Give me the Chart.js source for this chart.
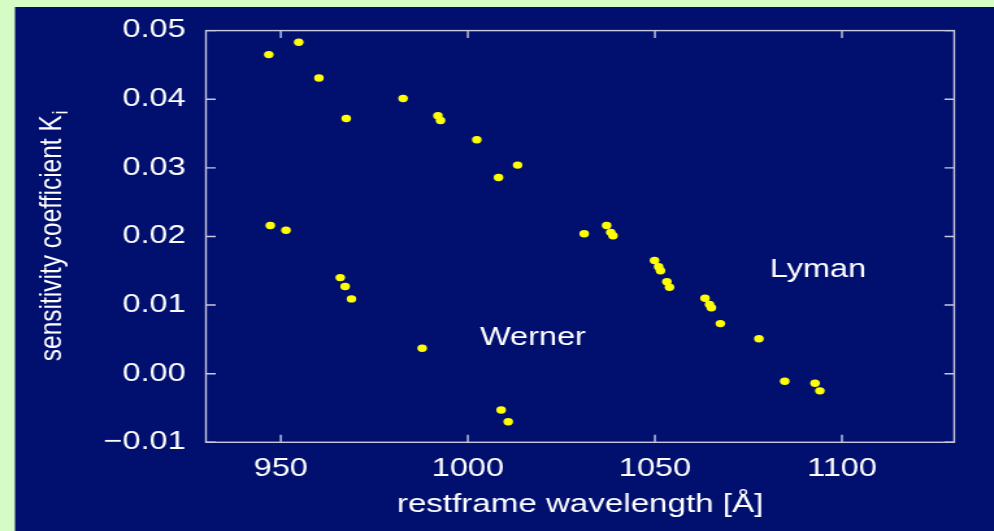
<!DOCTYPE html>
<html>
<head>
<meta charset="utf-8">
<script src="https://cdn.jsdelivr.net/npm/chart.js@4/dist/chart.umd.min.js"></script>
<style>
  html, body { margin: 0; padding: 0; background: #d4fcc4; overflow: hidden; }
  /* the original picture is stretched sideways, so the chart is drawn narrow and scaled */
  #wrap { width: 765px; height: 531px; transform: scaleX(1.2993); transform-origin: 0 0; }
</style>
</head>
<body>
<div id="wrap"><canvas id="chart"></canvas></div>
<script>
// Lyman band lines
const lymanWl = [946.8, 954.8, 960.2, 967.5, 982.7, 992.0, 992.7, 1002.4, 1008.2, 1013.3,
    1031.1, 1037.1, 1038.2, 1038.8, 1049.9, 1051.0, 1051.5, 1053.2, 1053.9,
    1063.4, 1064.6, 1065.1, 1067.5, 1077.8, 1084.7, 1092.8, 1094.1];
const lymanK = [0.0465, 0.0483, 0.0431, 0.0372, 0.0401, 0.0376, 0.0369, 0.0341, 0.0286, 0.0304,
    0.0204, 0.0216, 0.0206, 0.0201, 0.0165, 0.0156, 0.0150, 0.0134, 0.0126,
    0.0110, 0.0101, 0.0096, 0.0073, 0.0051, -0.0011, -0.0014, -0.0025];

// Werner band lines
const wernerWl = [947.2, 951.4, 965.9, 967.2, 968.9, 987.8, 1008.9, 1010.8];
const wernerK = [0.0216, 0.0209, 0.0140, 0.0127, 0.0109, 0.0037, -0.0053, -0.0070];

// axes
const xTicks = [950, 1000, 1050, 1100];
const xTickLabels = ['950', '1000', '1050', '1100'];
const yTicks = [-0.01, 0.00, 0.01, 0.02, 0.03, 0.04, 0.05];
const yTickLabels = ['\u22120.01', '0.00', '0.01', '0.02', '0.03', '0.04', '0.05'];
const xTitle = 'restframe wavelength [\u00c5]';
const yTitle = 'sensitivity coefficient K';
const yTitleSub = 'i';

// band names written inside the plot (data coordinates)
const bandNames = ['Lyman', 'Werner'];
const bandNameWl = [1093.6, 1017.4];
const bandNameK = [0.0151, 0.0052];

const FONT = '"Liberation Sans", Arial, sans-serif';
const NAVY = '#01106f';
const GREEN = '#d4fcc4';
const TEXT = '#ffffff';
const FRAME = '#c8c8dc';

const zip = (xs, ys) => xs.map((x, i) => ({ x: x, y: ys[i] }));
const labelFor = (ticks, labels) => v => {
    const i = ticks.findIndex(t => Math.abs(t - v) < 1e-9);
    return i >= 0 ? labels[i] : '';
};

const decor = {
    id: 'decor',
    beforeDraw(chart) {
        const ctx = chart.ctx;
        ctx.save();
        ctx.fillStyle = GREEN;
        ctx.fillRect(0, 0, chart.width, chart.height);
        ctx.fillStyle = NAVY;
        ctx.fillRect(11.5, 7, chart.width - 11.5, chart.height - 7);
        ctx.restore();
    },
    afterDraw(chart) {
        const ctx = chart.ctx;
        const a = chart.chartArea;
        const xs = chart.scales.x, ys = chart.scales.y;
        const tl = 7.5;
        ctx.save();

        // frame with inward ticks
        ctx.strokeStyle = FRAME;
        ctx.lineWidth = 1.4;
        ctx.strokeRect(a.left, a.top, a.right - a.left, a.bottom - a.top);
        ctx.beginPath();
        xTicks.forEach(v => {
            const px = xs.getPixelForValue(v);
            ctx.moveTo(px, a.bottom); ctx.lineTo(px, a.bottom - tl);
            ctx.moveTo(px, a.top); ctx.lineTo(px, a.top + tl);
        });
        yTicks.forEach(v => {
            const py = ys.getPixelForValue(v);
            ctx.moveTo(a.left, py); ctx.lineTo(a.left + tl, py);
            ctx.moveTo(a.right, py); ctx.lineTo(a.right - tl, py);
        });
        ctx.stroke();

        // band names
        ctx.fillStyle = TEXT;
        ctx.font = '25px ' + FONT;
        ctx.textAlign = 'center';
        ctx.textBaseline = 'middle';
        bandNames.forEach((name, i) => {
            ctx.fillText(name, xs.getPixelForValue(bandNameWl[i]), ys.getPixelForValue(bandNameK[i]));
        });

        // x title
        ctx.textBaseline = 'alphabetic';
        ctx.font = '25.5px ' + FONT;
        ctx.fillText(xTitle, (a.left + a.right) / 2, 511.5);

        // y title with subscript
        ctx.translate(46.5, (a.top + a.bottom) / 2);
        ctx.rotate(-Math.PI / 2);
        ctx.font = '24.5px ' + FONT;
        const mainW = ctx.measureText(yTitle).width;
        ctx.font = '16px ' + FONT;
        const subW = ctx.measureText(yTitleSub).width;
        const start = -(mainW + subW) / 2;
        ctx.textAlign = 'left';
        ctx.font = '24.5px ' + FONT;
        ctx.fillText(yTitle, start, 0);
        ctx.font = '16px ' + FONT;
        ctx.fillText(yTitleSub, start + mainW + 1, 5);
        ctx.restore();
    }
};

new Chart(document.getElementById('chart'), {
    type: 'scatter',
    data: {
        datasets: [
            { label: 'Lyman', data: zip(lymanWl, lymanK), backgroundColor: '#ffff00', borderWidth: 0, pointRadius: 3.7 },
            { label: 'Werner', data: zip(wernerWl, wernerK), backgroundColor: '#ffff00', borderWidth: 0, pointRadius: 3.7 }
        ]
    },
    options: {
        responsive: true,
        maintainAspectRatio: false,
        animation: false,
        layout: { padding: { left: 0, top: 30, right: 30.6, bottom: 0 } },
        plugins: { legend: { display: false }, tooltip: { enabled: false } },
        scales: {
            x: {
                type: 'linear',
                min: 930,
                max: 1130,
                afterBuildTicks: s => { s.ticks = xTicks.map(v => ({ value: v })); },
                afterFit: s => { s.height = 88.7; },
                grid: { display: false, drawTicks: false },
                border: { display: false },
                ticks: {
                    color: TEXT, font: { family: FONT, size: 25 }, padding: 12,
                    autoSkip: false, maxRotation: 0,
                    callback: labelFor(xTicks, xTickLabels)
                }
            },
            y: {
                type: 'linear',
                min: -0.01,
                max: 0.05,
                afterBuildTicks: s => { s.ticks = yTicks.map(v => ({ value: v })); },
                afterFit: s => { s.width = 158.5; },
                grid: { display: false, drawTicks: false },
                border: { display: false },
                ticks: {
                    color: TEXT, font: { family: FONT, size: 25 }, padding: 15.6,
                    autoSkip: false,
                    callback: labelFor(yTicks, yTickLabels)
                }
            }
        }
    },
    plugins: [decor]
});
</script>
</body>
</html>
